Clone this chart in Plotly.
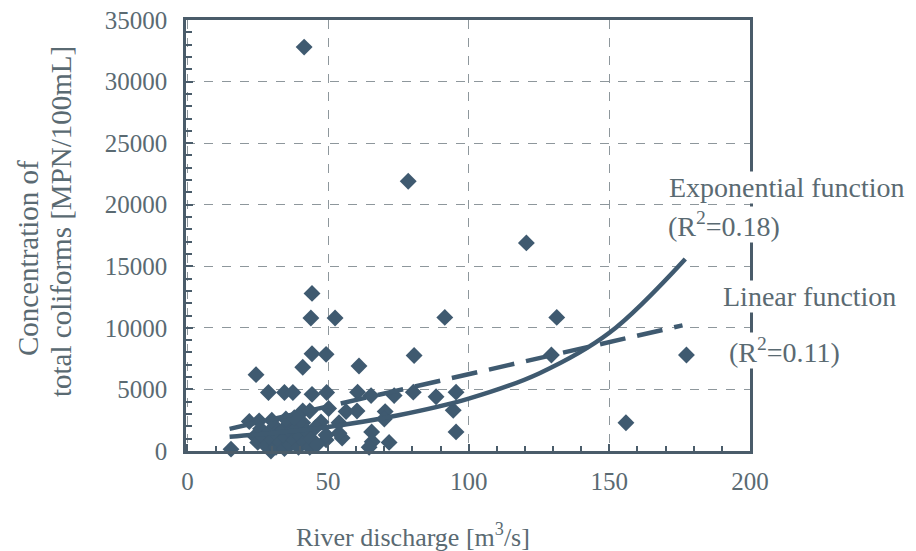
import plotly.graph_objects as go

# Observed data: river discharge [m3/s] vs total coliforms [MPN/100mL]
discharge = [
    41.5, 78.5, 120.5, 44.3, 43.9, 52.5, 91.5, 131.3, 177.4, 129.4, 155.9,
    44.3, 49.3, 41.0, 61.0, 80.6, 24.4,
    28.8, 34.5, 37.5, 44.3, 49.5, 60.5, 65.3, 73.5, 80.3, 88.4, 95.5,
    41.0, 43.5, 50.2, 56.4, 60.3, 70.3, 94.5,
    95.5, 22.0, 25.5, 47.5, 53.9, 70.0,
    65.5, 65.7, 71.7, 64.6, 49.3, 55.0, 53.9, 49.3,
    15.5, 29.7,
    24.0, 25.0, 26.0, 27.0, 28.0, 29.0, 30.0, 31.0, 31.5, 32.0, 33.0, 34.0,
    34.5, 35.0, 36.0, 36.5, 37.0, 38.0, 39.0, 39.5, 40.0, 41.0, 41.5, 42.5,
    43.5, 44.0, 45.5, 46.0, 35.0, 38.0, 30.0,
]
coliforms = [
    32800, 21900, 16900, 12800, 10800, 10800, 10850, 10850, 7800, 7800, 2300,
    7900, 7850, 6800, 6900, 7750, 6200,
    4750, 4750, 4750, 4600, 4750, 4780, 4500, 4500, 4780, 4400, 4780,
    3250, 3250, 3450, 3200, 3250, 3200, 3300,
    1550, 2400, 2450, 2350, 2300, 2600,
    1550, 750, 700, 300, 900, 1050, 1450, 1300,
    150, 0,
    1200, 700, 1800, 1100, 400, 1500, 900, 2000, 300, 1300, 700, 1700,
    200, 1100, 2200, 500, 1500, 900, 1900, 300, 1200, 2300, 700, 1600,
    300, 1000, 1900, 500, 2600, 2700, 2500,
]

# Fitted curves, points
exp_x = [15, 30, 50, 75, 100, 125, 150, 177]
exp_y = [1150, 1450, 1950, 2900, 4250, 6300, 9600, 15600]
lin_x = [15, 176]
lin_y = [1800, 10200]

x_ticks = [0, 50, 100, 150, 200]
y_ticks = [0, 5000, 10000, 15000, 20000, 25000, 30000, 35000]

DARK = "#3f5a70"
TEXT = "#5a6a72"
GRID = "#8e979c"
AXIS = "#4a5c6a"
FONT = "Liberation Serif"

fig = go.Figure()
fig.add_trace(go.Scatter(
    x=discharge, y=coliforms, mode="markers",
    marker=dict(symbol="diamond", size=13, color=DARK),
    showlegend=False, cliponaxis=False,
))
fig.add_trace(go.Scatter(
    x=lin_x, y=lin_y, mode="lines",
    line=dict(color=DARK, width=4.5, dash="26px,12px"),
    showlegend=False,
))
fig.add_trace(go.Scatter(
    x=exp_x, y=exp_y, mode="lines", line_shape="spline",
    line=dict(color=DARK, width=4.5),
    showlegend=False,
))

axis_common = dict(
    showline=True, linecolor=AXIS, linewidth=2.5, mirror=True,
    showgrid=True, gridcolor=GRID, griddash="dash", gridwidth=1.3,
    zeroline=False, ticks="inside", tickcolor=AXIS, ticklen=7, tickwidth=1.5,
    tickfont=dict(family=FONT, size=25, color=TEXT),
    automargin=False, ticklabeloverflow="allow",
)

fig.update_xaxes(
    range=[-0.5, 200], tickvals=x_ticks, ticktext=[str(v) for v in x_ticks],
    minor=dict(dtick=10, ticks="inside", ticklen=5, tickcolor=AXIS, showgrid=False),
    ticklabelstandoff=6,
    **axis_common,
)
fig.update_yaxes(
    range=[0, 35000], tickvals=y_ticks, ticktext=[str(v) for v in y_ticks],
    minor=dict(dtick=1000, ticks="inside", ticklen=6, tickcolor=AXIS, showgrid=False),
    ticklabelstandoff=11,
    **axis_common,
)

# Axis titles (placed as text, pixel offsets from plot-area corners)
fig.add_annotation(x=0, y=0, xref="paper", yref="paper", xanchor="center", yanchor="middle",
                   xshift=227, yshift=-84, showarrow=False,
                   text="River discharge [m<sup>3</sup>/s]",
                   font=dict(family=FONT, size=26, color=TEXT))
fig.add_annotation(x=0, y=1, xref="paper", yref="paper", xanchor="center", yanchor="middle",
                   xshift=-158, yshift=-238, textangle=-90, showarrow=False,
                   text="Concentration of",
                   font=dict(family=FONT, size=29, color=TEXT))
fig.add_annotation(x=0, y=1, xref="paper", yref="paper", xanchor="center", yanchor="middle",
                   xshift=-125, yshift=-202, textangle=-90, showarrow=False,
                   text="total coliforms [MPN/100mL]",
                   font=dict(family=FONT, size=29, color=TEXT))

# Curve labels
ann_font = dict(family=FONT, size=28, color=TEXT)
labels = [
    ("Exponential function", 482, -167),
    ("(R<sup>2</sup>=0.18)", 481, -204),
    ("Linear function", 536, -276),
    ("(R<sup>2</sup>=0.11)", 542, -330),
]
for txt, dx, dy in labels:
    fig.add_annotation(x=0, y=1, xref="paper", yref="paper",
                       xanchor="left", yanchor="middle",
                       xshift=dx, yshift=dy, text=txt, showarrow=False,
                       font=ann_font, bgcolor="white", borderpad=0)

fig.update_layout(
    width=900, height=543,
    margin=dict(l=178, r=158, t=12, b=100),
    paper_bgcolor="white", plot_bgcolor="white",
    font=dict(family=FONT, color=TEXT),
)

fig.write_html("out.html")
